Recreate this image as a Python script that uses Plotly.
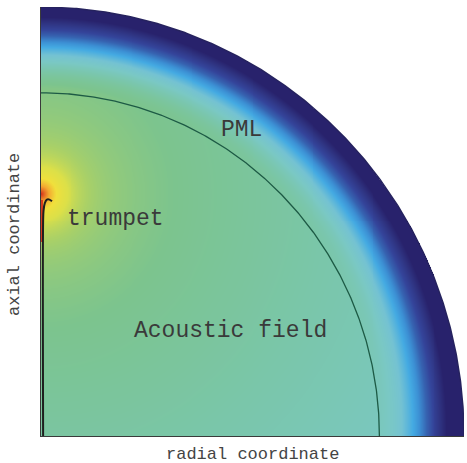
import numpy as np
import plotly.graph_objects as go

# Geometry of the axisymmetric model (normalised radius)
outer_radius = 1.0          # outer edge of the PML
pml_start = 0.80            # interface between acoustic field and PML
source_z = 0.565            # axial position of the trumpet mouth hot spot

# Trumpet wall profile (radial, axial)
trumpet_r = [0.005, 0.005, 0.006, 0.009, 0.014, 0.020, 0.026]
trumpet_z = [0.000, 0.500, 0.525, 0.543, 0.551, 0.551, 0.547]

# Sound level model parameters
level_far = 0.73
level_slope = 0.16
hot_amp = 0.28
hot_width = 0.05
pml_drop = 0.85
pml_power = 1.9

labels = ["PML", "trumpet", "Acoustic field"]
label_x = [0.475, 0.175, 0.447]
label_y = [0.713, 0.505, 0.245]

colorscale = [
    [0.00, "#28226c"],
    [0.10, "#2f3482"],
    [0.20, "#34449a"],
    [0.28, "#3662b0"],
    [0.36, "#3c90d4"],
    [0.42, "#44aae2"],
    [0.50, "#74c2d2"],
    [0.56, "#7ac8c4"],
    [0.62, "#7ac6aa"],
    [0.68, "#7cc48e"],
    [0.74, "#a8d068"],
    [0.80, "#dce048"],
    [0.86, "#f0e03c"],
    [0.92, "#f4a830"],
    [1.00, "#d83a1c"],
]

n = 430
xs = (np.arange(n) + 0.5) / n * outer_radius
ys = (np.arange(n) + 0.5) / n * outer_radius
X, Y = np.meshgrid(xs, ys)
R = np.hypot(X, Y)
D = np.hypot(X, Y - source_z)

field = level_far - level_slope * D + hot_amp * np.exp(-D / hot_width)
t = np.clip((R - pml_start) / (outer_radius - pml_start), 0, None)
field = field - pml_drop * t ** pml_power
inside_horn = (X < trumpet_r[0]) & (Y > 0.45) & (Y < trumpet_z[-2])
field[inside_horn] = 1.0
field = np.clip(field, 0, 1)
field[R > outer_radius] = np.nan
field = np.round(field, 3)

fig = go.Figure()
fig.add_trace(go.Heatmap(
    x=xs, y=ys, z=field, colorscale=colorscale, zmin=0, zmax=1,
    showscale=False, hoverinfo="skip",
))

theta = np.linspace(0, np.pi / 2, 300)
fig.add_trace(go.Scatter(
    x=pml_start * np.cos(theta), y=pml_start * np.sin(theta),
    mode="lines", line=dict(color="#1d5a45", width=1.3), hoverinfo="skip",
))
fig.add_trace(go.Scatter(
    x=outer_radius * np.cos(theta), y=outer_radius * np.sin(theta),
    mode="lines", line=dict(color="#26235e", width=1.4), hoverinfo="skip",
))
fig.add_trace(go.Scatter(
    x=trumpet_r, y=trumpet_z, mode="lines",
    line=dict(color="#1e1e1e", width=2.0, shape="spline"), hoverinfo="skip",
))

font_family = "Liberation Mono, Courier New, monospace"
annotations = [
    dict(x=lx, y=ly, xref="x", yref="y", text=txt, showarrow=False,
         xanchor="center", yanchor="middle",
         font=dict(family=font_family, size=23, color="#3a3a3a"))
    for txt, lx, ly in zip(labels, label_x, label_y)
]
annotations.append(dict(
    x=0.50, y=-0.044, xref="paper", yref="paper", text="radial coordinate",
    xanchor="center", yanchor="middle", showarrow=False,
    font=dict(family=font_family, size=17, color="#444444"),
))
annotations.append(dict(
    x=-0.061, y=0.469, xref="paper", yref="paper", text="axial coordinate",
    xanchor="center", yanchor="middle", textangle=-90, showarrow=False,
    font=dict(family=font_family, size=17, color="#444444"),
))

axis_style = dict(
    range=[0, outer_radius], showgrid=False, zeroline=False,
    showticklabels=False, ticks="", showline=True,
    linecolor="#3a3a3a", linewidth=1.2,
)
fig.update_layout(
    width=467, height=463,
    margin=dict(l=41, r=3, t=7, b=27),
    paper_bgcolor="white", plot_bgcolor="white",
    showlegend=False,
    xaxis=axis_style, yaxis=axis_style,
    annotations=annotations,
)

fig.write_html("out.html")
